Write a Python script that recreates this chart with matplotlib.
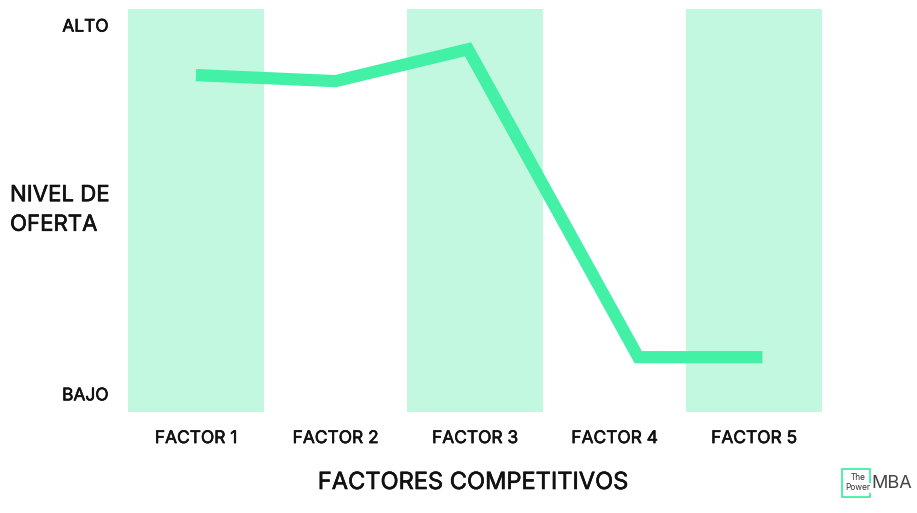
import matplotlib
matplotlib.use('Agg')
import matplotlib.pyplot as plt
import matplotlib.patheffects as pe
from matplotlib.patches import Rectangle

# Data
factors = ['FACTOR 1', 'FACTOR 2', 'FACTOR 3', 'FACTOR 4', 'FACTOR 5']
shaded = [0, 2, 4]  # columns with background band
line_x = [0.0, 1.0, 1.95, 3.17, 4.06]
line_y = [0.836, 0.821, 0.90, 0.136, 0.136]

band_color = '#C2F8E0'
line_color = '#42F0A6'
font = ['Inter', 'DejaVu Sans']
bold = [pe.withStroke(linewidth=0.45, foreground='#111111')]

fig = plt.figure(figsize=(9.17, 5.13), dpi=100)
ax = fig.add_axes([128 / 917, 101 / 513, 694 / 917, 403 / 513])
ax.set_xlim(-0.487, 4.487)
ax.set_ylim(0, 1)

for i in shaded:
    ax.axvspan(i - 0.487, i + 0.487, color=band_color, lw=0, zorder=0)

ax.plot(line_x, line_y, color=line_color, lw=8.8, solid_capstyle='butt',
        solid_joinstyle='miter', zorder=2)

for s in ax.spines.values():
    s.set_visible(False)
ax.set_yticks([0.045, 0.96])
ax.set_yticklabels(['BAJO', 'ALTO'], fontsize=12.5, family=font, color='#111111')
ax.set_xticks(range(len(factors)))
ax.set_xticklabels(factors, fontsize=12.5, family=font, color='#111111')
for t in ax.get_xticklabels() + ax.get_yticklabels():
    t.set_path_effects(bold)
ax.tick_params(length=0)
ax.tick_params(axis='y', pad=14)
ax.tick_params(axis='x', pad=13)

fig.text(10 / 917, 1 - 210 / 513, 'NIVEL DE\nOFERTA', fontsize=16, family=font,
         color='#111111', ha='left', va='center', linespacing=1.6,
         path_effects=bold)
fig.text(473 / 917, 1 - 483 / 513, 'FACTORES COMPETITIVOS', fontsize=17,
         family=font, color='#111111', ha='center', va='center',
         path_effects=bold)

# logo
fig.patches.append(Rectangle((842 / 917, 1 - 497 / 513), 28 / 917, 28 / 513,
                             transform=fig.transFigure, fill=False,
                             ec=line_color, lw=1.3))
fig.text(866 / 917, 1 - 478 / 513, 'The', fontsize=6, ha='right', va='center',
         family=font, color='#333333')
fig.text(870 / 917, 1 - 488 / 513, 'Power', fontsize=6, ha='right', va='center',
         family=font, color='#333333',
         bbox=dict(fc='white', ec='none', pad=0.5))
fig.text(871 / 917, 1 - 484 / 513, 'MBA', fontsize=13, ha='left', va='center',
         family=font, color='#444444')

fig.savefig('out.png', dpi=100)
